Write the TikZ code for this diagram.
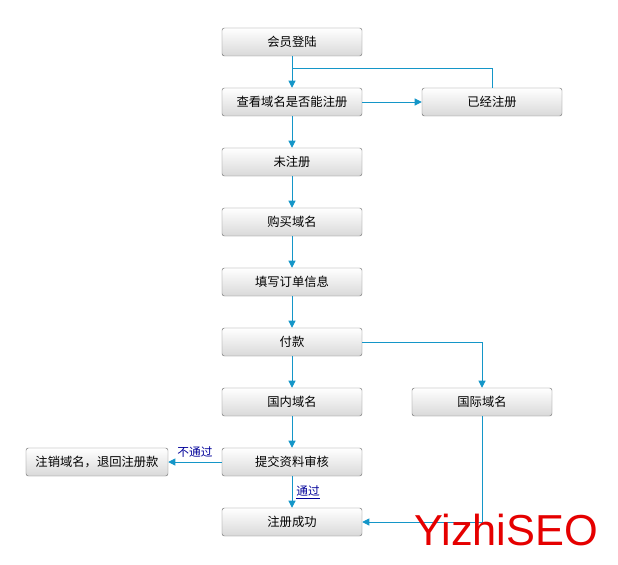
\documentclass[tikz,border=0pt]{standalone}
\usepackage{fontspec}
\newfontfamily\cjk{Noto Sans CJK SC}
\usetikzlibrary{arrows.meta}
\definecolor{flowblue}{RGB}{20,150,200}
\tikzset{
  box/.style={draw=gray!90!black, rounded corners=2pt, minimum width=4.2cm, minimum height=0.84cm,
    top color=white, bottom color=gray!30, font=\cjk\fontsize{10.5}{12}\selectfont, inner sep=0pt},
  flow/.style={draw=flowblue, line width=0.8pt, -{Triangle[width=6pt,length=6pt]}},
  lbl/.style={font=\cjk\fontsize{10}{11}\selectfont, text=blue!60!black}
}
\begin{document}
\begin{tikzpicture}[x=0.03cm,y=-0.03cm]
  \useasboundingbox (0,0) rectangle (618,565);
  \node [box] (login) at (292,42) {会员登陆};
  \node [box] (check) at (292,102) {查看域名是否能注册};
  \node [box] (taken) at (492,102) {已经注册};
  \node [box] (free) at (292,162) {未注册};
  \node [box] (buy) at (292,222) {购买域名};
  \node [box] (order) at (292,282) {填写订单信息};
  \node [box] (pay) at (292,342) {付款};
  \node [box] (cn) at (292,402) {国内域名};
  \node [box] (intl) at (482,402) {国际域名};
  \node [box] (audit) at (292,462) {提交资料审核};
  \node [box, minimum width=4.26cm] (cancel) at (97,462) {注销域名，退回注册款};
  \node [box] (done) at (292,522) {注册成功};
  \coordinate (split) at (292,68);
  \coordinate (corner) at (482,522);
  % main column
  \draw [flow] (login) -- (check);
  \draw [draw=flowblue, line width=0.8pt] (split) -| (taken.north);
  \draw [flow] (check) -- (taken);
  \draw [flow] (check) -- (free);
  \draw [flow] (free) -- (buy);
  \draw [flow] (buy) -- (order);
  \draw [flow] (order) -- (pay);
  \draw [flow] (pay) -- (cn);
  \draw [flow] (pay.east) -| (intl.north);
  \draw [flow] (cn) -- (audit);
  \draw [flow] (audit) -- node [lbl, above] {不通过} (cancel);
  \draw [flow] (audit) -- node [lbl, right] {\underline{通过}} (done);
  \draw [flow] (intl.south) |- (corner) -- (done.east);
  \node [font=\fontspec{Liberation Sans}\fontsize{37}{40}\selectfont, text=red!90!black, anchor=west] (mark) at (410,530) {YizhiSEO};
\end{tikzpicture}
\end{document}
